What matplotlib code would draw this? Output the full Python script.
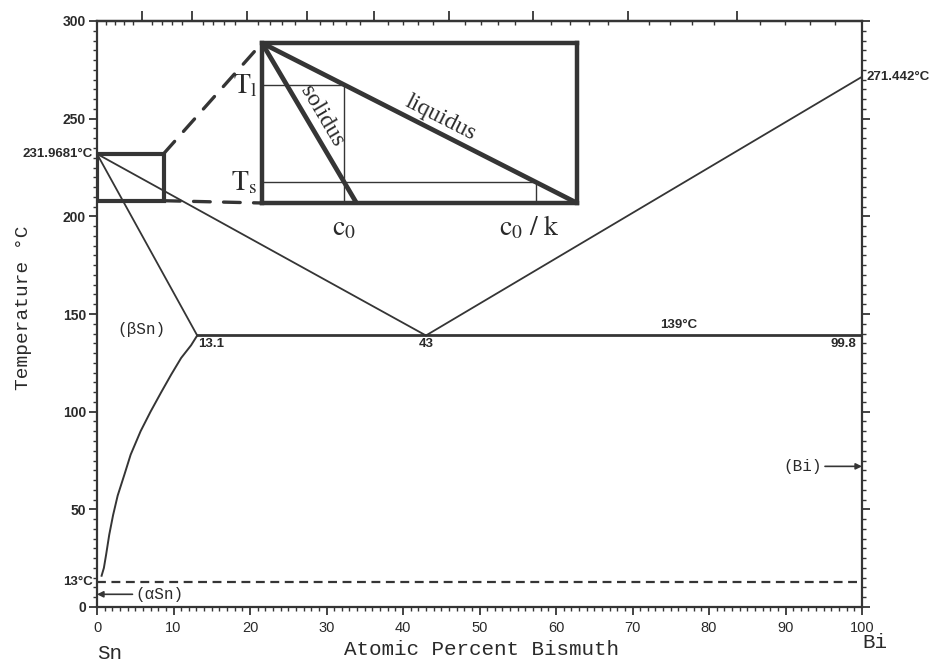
#!/usr/bin/env python3

'''
Sn-Bi phase diagram with a sketch of the
solidus / liquidus near pure Sn
'''

import numpy as np
import matplotlib
matplotlib.use('Agg')
import matplotlib.pyplot as plt
from matplotlib.patches import Rectangle, ConnectionPatch


#==================================================================
# main diagram (at.% Bi, deg C)
sn_melt = 231.9681
bi_melt = 271.442
eut_x = 43
eut_t = 139
sn_solub = 13.1
bi_solub = 99.8
sn_transf = 13

liq_sn_x = [0, eut_x]
liq_sn_t = [sn_melt, eut_t]
liq_bi_x = [eut_x, 100]
liq_bi_t = [eut_t, bi_melt]
sol_sn_x = [0, sn_solub]
sol_sn_t = [sn_melt, eut_t]
solvus_x = [0.6, 0.9, 1.2, 1.6, 2.1, 2.7, 3.6, 4.4, 5.7, 7.0, 8.4, 9.7,
            11.0, 12.3, 13.1]
solvus_t = [16, 20, 27, 37, 47, 57, 68, 78, 90, 100, 110, 119,
            127.5, 134, 139]

x_ticks = list(range(0, 101, 10))
t_ticks = list(range(0, 301, 50))
wt_major = list(range(10, 100, 10))
wt_minor = list(range(2, 100, 2))

# box marking the zoomed region
box_x = [0, 8.7]
box_t = [208, 232]

# zoomed sketch, normalised units
zl_x = [0, 1]
zl_y = [1, 0]
zs_x = [0, 0.3]
zs_y = [1, 0]
c0 = 0.26
c0k = 0.87
t_l = 0.74
t_s = 0.13

M_SN = 118.71
M_BI = 208.98

LC = '#353535'
TC = '#2a2a2a'
MONO = 'Liberation Mono'
SERIF = 'Liberation Serif'

plt.rcParams['mathtext.fontset'] = 'stix'


#==================================================================
def at_to_wt(a):
    a = np.asarray(a, dtype=float)
    with np.errstate(divide='ignore', invalid='ignore'):
        return 100 * a * M_BI / (a * M_BI + (100 - a) * M_SN)


def wt_to_at(w):
    w = np.asarray(w, dtype=float)
    with np.errstate(divide='ignore', invalid='ignore'):
        return 100 * (w / M_BI) / (w / M_BI + (100 - w) / M_SN)


#==================================================================
def real_main():
    fig = plt.figure(figsize=(9.35, 6.64), dpi=100)
    ax = fig.add_axes([97/935, 1-607/664, 765/935, 586/664])
    ax.set_xlim(0, 100)
    ax.set_ylim(0, 300)

    for s in ax.spines.values():
        s.set_linewidth(1.6)
        s.set_color(LC)

    ax.set_xticks(x_ticks)
    ax.set_xticks(np.arange(0, 101, 1), minor=True)
    ax.set_yticks(t_ticks)
    ax.set_yticks(np.arange(0, 301, 5), minor=True)
    ax.tick_params(which='major', direction='out', length=6, width=1.3,
                   color=LC, pad=2, right=True)
    ax.tick_params(which='minor', direction='out', length=3, width=1,
                   color=LC, right=True)
    ax.tick_params(axis='x', pad=4)
    for lab in ax.get_xticklabels():
        lab.set_fontproperties(dict(family='Liberation Sans', size=10.5))
        lab.set_color(TC)
    for lab in ax.get_yticklabels():
        lab.set_fontproperties(dict(family='Liberation Sans', weight='bold',
                                    size=10))
        lab.set_color(TC)

    # weight percent scale on top, labels cut off
    top = ax.secondary_xaxis('top', functions=(at_to_wt, wt_to_at))
    top.set_xticks(wt_major)
    top.set_xticks(wt_minor, minor=True)
    top.tick_params(which='major', direction='out', length=7, width=1.3,
                    color=LC, labeltop=False)
    top.tick_params(which='minor', direction='in', length=3, width=1,
                    color=LC)
    top.spines['top'].set_linewidth(1.6)

    # phase boundaries
    ax.plot(liq_sn_x, liq_sn_t, color=LC, lw=1.3)
    ax.plot(liq_bi_x, liq_bi_t, color=LC, lw=1.3)
    ax.plot(sol_sn_x, sol_sn_t, color=LC, lw=1.3)
    ax.plot(solvus_x, solvus_t, color=LC, lw=1.4)
    ax.plot([sn_solub, bi_solub], [eut_t, eut_t], color=LC, lw=2)
    ax.plot([0, 100], [sn_transf, sn_transf], color=LC, lw=1.6,
            ls=(0, (4, 2.5)))

    # labels on the diagram
    lab9 = dict(family='Liberation Sans', weight='bold', size=9.5, color=TC)
    ax.annotate('231.9681°C', (0, sn_melt), xytext=(-3, 0),
                textcoords='offset points', ha='right', va='center',
                annotation_clip=False, **lab9)
    ax.annotate('271.442°C', (100, bi_melt), xytext=(3, 0),
                textcoords='offset points', ha='left', va='center',
                annotation_clip=False, **lab9)
    ax.annotate('13°C', (0, sn_transf), xytext=(-3, 0),
                textcoords='offset points', ha='right', va='center',
                annotation_clip=False, **lab9)
    ax.annotate('%.1f' % sn_solub, (sn_solub, eut_t), xytext=(1, -2),
                textcoords='offset points', ha='left', va='top', **lab9)
    ax.annotate('%d' % eut_x, (eut_x, eut_t), xytext=(0, -2),
                textcoords='offset points', ha='center', va='top', **lab9)
    ax.annotate('%.1f' % bi_solub, (bi_solub, eut_t), xytext=(-3, -2),
                textcoords='offset points', ha='right', va='top', **lab9)
    ax.annotate('%d°C' % eut_t, (76, eut_t), xytext=(0, 3),
                textcoords='offset points', ha='center', va='bottom', **lab9)

    ax.text(5.8, 142, '(βSn)', family=MONO, size=11.5, color=TC,
            ha='center', va='center')
    ax.annotate('(αSn)', xy=(0, 6.5), xytext=(5.0, 6.5), family=MONO,
                size=11.5, color=TC, ha='left', va='center',
                arrowprops=dict(arrowstyle='-|>', color=LC, lw=1.2,
                                shrinkA=0, shrinkB=0, mutation_scale=9))
    ax.annotate('(Bi)', xy=(100, 72), xytext=(94.8, 72), family=MONO,
                size=11.5, color=TC, ha='right', va='center',
                annotation_clip=False,
                arrowprops=dict(arrowstyle='-|>', color=LC, lw=1.2,
                                shrinkA=0, shrinkB=0, mutation_scale=9))

    ax.set_xlabel('Atomic Percent Bismuth', family=MONO, size=15, color=TC)
    ax.xaxis.set_label_coords(0.503, -0.056)
    ax.set_ylabel('Temperature °C', family=MONO, size=14, color=TC)
    ax.yaxis.set_label_coords(-0.085, 0.51)
    ax.text(0, -0.08, 'Sn', transform=ax.transAxes, family=MONO, size=15,
            color=TC, ha='left', va='center')
    ax.text(1, -0.06, 'Bi', transform=ax.transAxes, family=MONO, size=15,
            color=TC, ha='left', va='center')

    # box around the Sn corner
    ax.add_patch(Rectangle((box_x[0], box_t[0]), box_x[1]-box_x[0],
                           box_t[1]-box_t[0], fill=False, lw=3,
                           ec=LC, zorder=4))

    #--------------------------------------------------------------
    # zoomed sketch of solidus / liquidus
    ins = fig.add_axes([262/935, 1-203/664, 315/935, 160/664])
    ins.set_xlim(0, 1)
    ins.set_ylim(0, 1)
    ins.set_xticks([])
    ins.set_yticks([])
    for s in ins.spines.values():
        s.set_linewidth(3.2)
        s.set_color(LC)

    ins.plot(zl_x, zl_y, color=LC, lw=3.4, solid_capstyle='butt')
    ins.plot(zs_x, zs_y, color=LC, lw=3.4, solid_capstyle='butt')
    ins.plot([0, c0], [t_l, t_l], color=LC, lw=1)
    ins.plot([c0, c0], [0, t_l], color=LC, lw=1)
    ins.plot([0, c0k], [t_s, t_s], color=LC, lw=1)
    ins.plot([c0k, c0k], [0, t_s], color=LC, lw=1)

    ins.text(0.19, 0.54, 'solidus', family=SERIF, size=17, color=TC,
             rotation=-73.3, transform_rotates_text=True,
             rotation_mode='anchor', ha='center', va='center')
    ins.text(0.565, 0.53, 'liquidus', family=SERIF, size=17,
             color=TC, rotation=-45, transform_rotates_text=True,
             rotation_mode='anchor', ha='center', va='center')
    ins.text(-0.015, t_l, r'$\mathrm{T_l}$', size=20, color=TC,
             ha='right', va='center')
    ins.text(-0.015, t_s, r'$\mathrm{T_s}$', size=20, color=TC,
             ha='right', va='center')
    ins.text(c0, -0.06, r'$\mathrm{c_0}$', size=20, color=TC,
             ha='center', va='top')
    ins.text(c0k - 0.02, -0.06, r'$\mathrm{c_0\ /\ k}$', size=20,
             color=TC, ha='center', va='top')

    # dashed connectors between box and sketch
    for yb, yi in [(box_t[1], 1), (box_t[0], 0)]:
        con = ConnectionPatch(xyA=(box_x[1], yb), coordsA=ax.transData,
                              xyB=(0, yi), coordsB=ins.transAxes,
                              color=LC, lw=2.4, ls=(0, (5, 4)))
        fig.add_artist(con)

    fig.savefig('out.png', dpi=100)


#==================================================================
if __name__ == "__main__":
    real_main()
